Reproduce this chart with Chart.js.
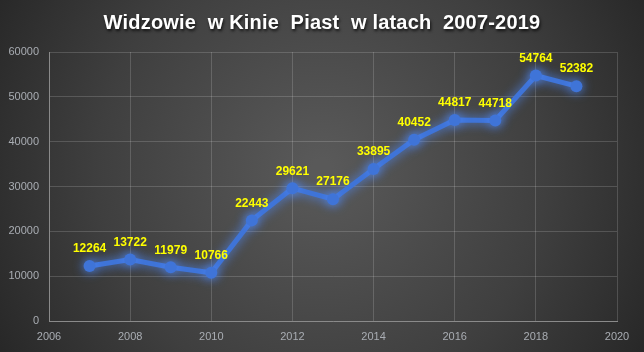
<!DOCTYPE html>
<html>
<head>
<meta charset="utf-8">
<script src="https://cdn.jsdelivr.net/npm/chart.js@4.4.1/dist/chart.umd.min.js"></script>
<style>
  html, body { margin: 0; padding: 0; background: #2a2a2a; }
  #wrap { width: 644px; height: 352px; position: relative; }
</style>
</head>
<body>
<div id="wrap"><canvas id="viewersChart"></canvas></div>
<script>
const chartTitle = 'Widzowie  w Kinie  Piast  w latach  2007-2019';
const years = [2007, 2008, 2009, 2010, 2011, 2012, 2013, 2014, 2015, 2016, 2017, 2018, 2019];
const viewers = [12264, 13722, 11979, 10766, 22443, 29621, 27176, 33895, 40452, 44817, 44718, 54764, 52382];
const xRange = [2006, 2020];
const yRange = [0, 60000];

const backgroundPlugin = {
  id: 'radialBackground',
  beforeDraw(chart) {
    const { ctx, width, height } = chart;
    const g = ctx.createRadialGradient(width / 2, height * 0.48, 10, width / 2, height * 0.48, width * 0.62);
    g.addColorStop(0, '#595959');
    g.addColorStop(0.55, '#3f3f3f');
    g.addColorStop(1, '#232323');
    ctx.save();
    ctx.fillStyle = g;
    ctx.fillRect(0, 0, width, height);
    ctx.restore();
  }
};

// title drawn by hand so it can be centred on the whole canvas and get a shadow
const titlePlugin = {
  id: 'shadowTitle',
  afterDraw(chart) {
    const ctx = chart.ctx;
    ctx.save();
    ctx.font = 'bold 20px "Liberation Sans", sans-serif';
    if ('letterSpacing' in ctx) ctx.letterSpacing = '0.2px';
    ctx.fillStyle = '#ffffff';
    ctx.textAlign = 'center';
    ctx.textBaseline = 'middle';
    ctx.shadowColor = 'rgba(0,0,0,0.75)';
    ctx.shadowOffsetX = 1;
    ctx.shadowOffsetY = 2;
    ctx.shadowBlur = 3;
    ctx.fillText(chartTitle, chart.width / 2, 23);
    ctx.restore();
  }
};

const glowPlugin = {
  id: 'lineGlow',
  beforeDatasetDraw(chart) {
    const ctx = chart.ctx;
    ctx.save();
    ctx.shadowColor = 'rgba(80, 140, 255, 0.95)';
    ctx.shadowBlur = 11;
  },
  afterDatasetDraw(chart) {
    chart.ctx.restore();
  }
};

const valueLabelPlugin = {
  id: 'valueLabels',
  afterDatasetsDraw(chart) {
    const ctx = chart.ctx;
    const meta = chart.getDatasetMeta(0);
    ctx.save();
    ctx.font = 'bold 12px "Liberation Sans", sans-serif';
    ctx.fillStyle = '#ffff00';
    ctx.textAlign = 'center';
    ctx.textBaseline = 'middle';
    meta.data.forEach((pt, i) => {
      ctx.fillText(String(viewers[i]), pt.x, pt.y - 17);
    });
    ctx.restore();
  }
};

new Chart(document.getElementById('viewersChart'), {
  type: 'line',
  data: {
    datasets: [{
      data: years.map((y, i) => ({ x: y, y: viewers[i] })),
      borderColor: '#3f74d8',
      backgroundColor: '#3f74d8',
      borderWidth: 5,
      pointRadius: 6,
      pointBorderWidth: 0,
      pointBackgroundColor: '#3f74d8',
      tension: 0
    }]
  },
  options: {
    responsive: true,
    maintainAspectRatio: false,
    animation: false,
    layout: { padding: { left: 0, right: 27, top: 52, bottom: 0 } },
    plugins: {
      legend: { display: false },
      tooltip: { enabled: false },
      title: { display: false }
    },
    scales: {
      x: {
        type: 'linear',
        min: xRange[0],
        max: xRange[1],
        ticks: {
          stepSize: 2,
          color: '#a9adb3',
          font: { family: '"Liberation Sans", sans-serif', size: 11 },
          padding: 9,
          callback: v => String(v)
        },
        grid: { color: 'rgba(255,255,255,0.16)', drawTicks: false },
        border: { color: '#8a8a8a', width: 1 },
        afterFit: s => { s.height = 31; }
      },
      y: {
        min: yRange[0],
        max: yRange[1],
        ticks: {
          stepSize: 10000,
          color: '#a9adb3',
          font: { family: '"Liberation Sans", sans-serif', size: 11 },
          padding: 10,
          callback: v => String(v)
        },
        grid: { color: 'rgba(255,255,255,0.16)', drawTicks: false },
        border: { color: '#8a8a8a', width: 1 },
        afterFit: s => { s.width = 49; }
      }
    }
  },
  plugins: [backgroundPlugin, titlePlugin, glowPlugin, valueLabelPlugin]
});
</script>
</body>
</html>
